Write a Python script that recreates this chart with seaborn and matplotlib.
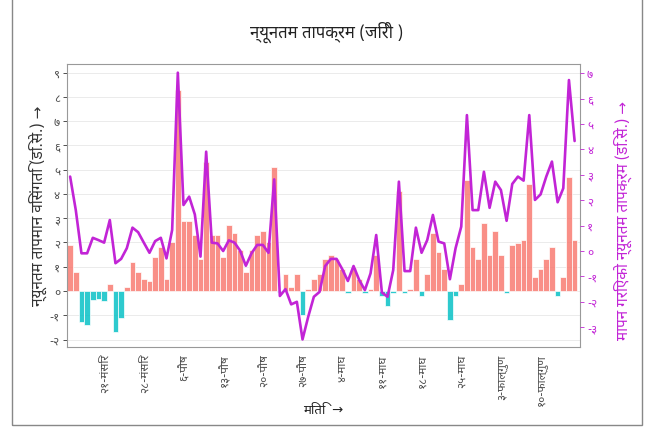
import numpy as np
import pandas as pd
import matplotlib
matplotlib.use("Agg")
import matplotlib.pyplot as plt
import seaborn as sns
from matplotlib import font_manager
from matplotlib.ft2font import FT2Font

# daily minimum temperature anomaly (left axis, deg C)
anomaly = [1.88, 0.80, -1.29, -1.40, -0.37, -0.33, -0.40, 0.29, -1.70, -1.10,
           0.18, 1.20, 0.80, 0.49, 0.41, 1.40, 1.80, 0.49, 2.00, 8.30,
           2.88, 2.88, 2.30, 1.30, 5.30, 2.30, 2.30, 1.40, 2.70, 2.38,
           1.70, 0.80, 1.70, 2.30, 2.49, 2.00, 5.10, -0.05, 0.69, 0.18,
           0.69, -1.00, 0.10, 0.49, 0.69, 1.30, 1.48, 1.30, 0.90, -0.10,
           1.00, 0.49, -0.10, 0.10, 1.50, -0.20, -0.60, -0.10, 4.10, -0.10,
           0.10, 1.30, -0.20, 0.69, 2.38, 1.60, 0.90, -1.20, -0.20, 0.29,
           4.57, 1.80, 1.30, 2.79, 1.48, 2.49, 1.48, -0.10, 1.88, 1.98,
           2.09, 4.41, 0.58, 0.90, 1.30, 1.80, -0.20, 0.58, 4.68, 2.09]

# measured minimum temperature (right axis, deg C)
min_temp = [2.93, 1.61, -0.09, -0.09, 0.52, 0.43, 0.33, 1.22, -0.48, -0.31,
            0.11, 0.92, 0.74, 0.33, -0.07, 0.39, 0.52, -0.29, 0.83, 7.02,
            1.81, 2.14, 1.44, -0.22, 3.91, 0.33, 0.30, 0.00, 0.42, 0.33,
            0.01, -0.58, -0.09, 0.24, 0.24, -0.07, 2.82, -1.77, -1.50, -2.10,
            -2.00, -3.48, -2.59, -1.80, -1.61, -0.59, -0.31, -0.31, -0.71, -1.18,
            -0.59, -1.14, -1.54, -0.88, 0.63, -1.63, -1.80, -0.75, 2.73, -0.79,
            -0.79, 0.92, -0.07, 0.43, 1.42, 0.37, 0.30, -1.11, 0.11, 0.96,
            5.35, 1.61, 1.61, 3.12, 1.70, 2.73, 2.40, 1.19, 2.64, 2.93,
            2.77, 5.35, 2.01, 2.23, 2.93, 3.52, 1.92, 2.47, 6.73, 4.33]

tick_pos = [6, 13, 20, 27, 34, 41, 48, 55, 62, 69, 76, 83]
tick_labels = ["२१-मंसिर", "२८-मंसिर", "६-पौष", "१३-पौष", "२०-पौष", "२७-पौष",
               "४-माघ", "११-माघ", "१८-माघ", "२५-माघ", "३-फाल्गुण", "१०-फाल्गुण"]
left_ticks = list(range(-2, 10))
right_ticks = list(range(-3, 8))


def deva_num(n):
    digits = "०१२३४५६७८९"
    s = "".join(digits[int(c)] for c in str(abs(n)))
    return ("-" if n < 0 else "") + s


def pick_deva_font():
    names = {}
    for f in font_manager.fontManager.ttflist:
        try:
            if 0x0928 in FT2Font(f.fname).get_charmap():
                names[f.name] = True
        except Exception:
            pass
    for want in ["Noto Sans Devanagari", "Mukta", "Hind", "Poppins", "Ek Mukta", "Yantramanav"]:
        if want in names:
            return want
    return next(iter(names), None)


sns.set_style("white")
deva = pick_deva_font()
plt.rcParams["font.family"] = ([deva] if deva else []) + ["DejaVu Sans"]

df = pd.DataFrame({"day": np.arange(len(anomaly)), "anom": anomaly})
df["sign"] = np.where(df["anom"] >= 0, "pos", "neg")

magenta = "#c224d6"
fig = plt.figure(figsize=(6.54, 4.28), dpi=100)
ax = fig.add_axes([67 / 654, 1 - 347.3 / 428, 513 / 654, 283 / 428])

sns.barplot(data=df, x="day", y="anom", hue="sign",
            palette={"pos": "#F8766D", "neg": "#00BFC4"}, dodge=False,
            saturation=1, width=1.0, edgecolor="white", linewidth=0.6, alpha=0.82,
            legend=False, ax=ax, zorder=2)
ax.set_ylim(-2.32, 9.34)
ax.set_xlim(-0.55, 89.95)
ax.set_yticks(left_ticks)
ax.set_yticklabels([deva_num(v) for v in left_ticks], fontsize=8.5, color="#4d4d4d")
ax.set_xticks(tick_pos)
ax.set_xticklabels(tick_labels, rotation=90, fontsize=8.5, color="#4d4d4d")
ax.tick_params(axis="both", length=3, width=0.6, color="#333333", pad=2)
ax.yaxis.grid(True, color="#ebebeb", linewidth=0.7, zorder=0)
ax.set_axisbelow(True)
ax.set_xlabel("")
ax.set_ylabel("")
for sp in ax.spines.values():
    sp.set_color("#999999")
    sp.set_linewidth(0.8)

ax2 = ax.twinx()
sns.lineplot(x=df["day"], y=min_temp, ax=ax2, color=magenta, linewidth=1.9)
ax2.set_ylim(-3.79, 7.35)
ax2.set_yticks(right_ticks)
ax2.set_yticklabels([deva_num(v) for v in right_ticks], fontsize=8.5, color=magenta)
ax2.tick_params(axis="y", length=3, width=0.6, color=magenta, pad=2)
ax2.set_ylabel("")
for sp in ax2.spines.values():
    sp.set_visible(False)

fig.text(327 / 654, 1 - 32 / 428, "न्यूनतम तापक्रम (जिरी )", ha="center", va="center",
         fontsize=12, fontweight="bold", color="#222222")
fig.text(38 / 654, 1 - 206 / 428, "न्यूनतम तापमान विसंगति (डि.से.) →", rotation=90,
         ha="center", va="center", fontsize=11, color="#333333")
fig.text(623 / 654, 1 - 220 / 428, "मापन गरिएको न्यूनतम तापक्रम (डि.से.) →", rotation=90,
         ha="center", va="center", fontsize=11, color=magenta)
fig.text(323.5 / 654, 1 - 410 / 428, "मिति  →", ha="center", va="center",
         fontsize=9.5, color="#222222")

fig.add_artist(plt.Rectangle((12 / 654, 3 / 428), 630 / 654, 1.2, transform=fig.transFigure,
                             fill=False, edgecolor="#888888", linewidth=1))

fig.savefig("out.png", dpi=100)
